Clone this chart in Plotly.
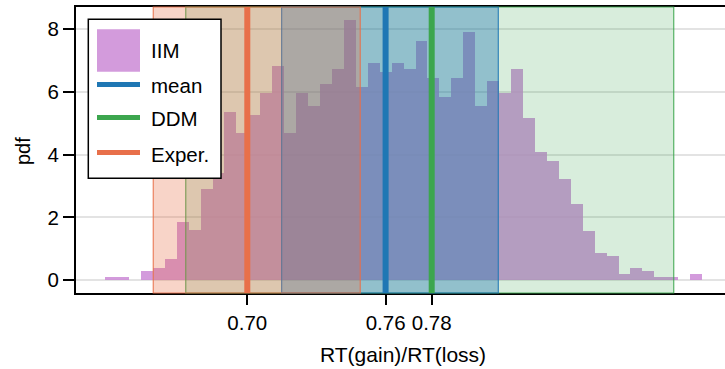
import plotly.graph_objects as go

# ---- data ----
bin_start = 0.6383
bin_width = 0.00518
iim_pdf = [0.10, 0.10, 0.00, 0.29, 0.39, 0.68, 1.86, 1.60, 2.91, 3.42,
           5.36, 4.70, 5.27, 5.96, 6.83, 4.70, 5.96, 5.55, 6.26, 6.73,
           8.30, 6.16, 6.93, 6.64, 6.93, 6.73, 7.63, 6.45, 5.84, 6.45,
           7.92, 5.55, 6.35, 5.97, 6.73, 5.17, 4.09, 3.80, 3.22, 2.43,
           1.56, 0.86, 0.77, 0.19, 0.38, 0.29, 0.10, 0.10, 0.00, 0.19]

labels = ["mean", "DDM", "Exper."]
point_values = [0.76, 0.78, 0.70]
ci_low = [0.7149, 0.6733, 0.6592]
ci_high = [0.8089, 0.8850, 0.7490]

x_ticks = [0.70, 0.76, 0.78]
x_ticktext = ["0.70", "0.76", "0.78"]
y_ticks = [0, 2, 4, 6, 8]

colors = {"mean": (31, 119, 180), "DDM": (60, 166, 78), "Exper.": (232, 112, 74)}
span_alpha = {"mean": 0.38, "DDM": 0.2, "Exper.": 0.3}
iim_color = (211, 155, 220)

def rgb(c):
    return "rgb(%d,%d,%d)" % c

def rgba(c, a):
    return "rgba(%d,%d,%d,%.3f)" % (c[0], c[1], c[2], a)

centers = [bin_start + bin_width * (i + 0.5) for i in range(len(iim_pdf))]

fig = go.Figure()
fig.add_trace(go.Bar(x=centers, y=iim_pdf, width=bin_width,
                     marker=dict(color="rgba(203,137,214,0.85)", line=dict(width=0)),
                     showlegend=False, hoverinfo="skip"))

shapes = []
# spans: order green (DDM), blue (mean), red (Exper.)
for name in ["DDM", "mean", "Exper."]:
    i = labels.index(name)
    shapes.append(dict(type="rect", xref="x", yref="paper", x0=ci_low[i], x1=ci_high[i],
                       y0=0, y1=1, layer="above",
                       fillcolor=rgba(colors[name], span_alpha[name]),
                       line=dict(color=rgba(colors[name], 0.85), width=1.2)))
for name in ["mean", "DDM", "Exper."]:
    i = labels.index(name)
    shapes.append(dict(type="line", xref="x", yref="paper", x0=point_values[i], x1=point_values[i],
                       y0=0, y1=1, layer="above",
                       line=dict(color=rgb(colors[name]), width=6)))

# manual legend (pixel -> paper)
L, R, T, B = 76, 725, 7, 293
def px(xp):
    return (xp - L) / (R - L)
def py(yp):
    return (B - yp) / (B - T)

shapes.append(dict(type="rect", xref="paper", yref="paper", x0=px(88.3), x1=px(221),
                   y0=py(178.3), y1=py(19.3), layer="above", fillcolor="white",
                   line=dict(color="black", width=1.5)))
shapes.append(dict(type="rect", xref="paper", yref="paper", x0=px(97), x1=px(140),
                   y0=py(71.7), y1=py(29.3), layer="above", fillcolor=rgb(iim_color),
                   line=dict(width=0)))
leg_y = {"mean": 84.5, "DDM": 117.5, "Exper.": 152.5}
for name in ["mean", "DDM", "Exper."]:
    shapes.append(dict(type="line", xref="paper", yref="paper", x0=px(97), x1=px(140),
                       y0=py(leg_y[name]), y1=py(leg_y[name]), layer="above",
                       line=dict(color=rgb(colors[name]), width=5)))

font_family = "Liberation Sans, Arial, sans-serif"
annotations = []
for text, yc in [("IIM", 50.5), ("mean", 85), ("DDM", 119), ("Exper.", 154)]:
    annotations.append(dict(text=text, xref="paper", yref="paper", x=px(149), y=py(yc),
                            xanchor="left", yanchor="middle", showarrow=False,
                            font=dict(size=20.5, color="black", family=font_family)))
annotations.append(dict(text="pdf", xref="paper", yref="paper", x=px(23), y=py(151),
                        textangle=-90, xanchor="center", yanchor="middle", showarrow=False,
                        font=dict(size=20, color="black", family=font_family)))
annotations.append(dict(text="RT(gain)/RT(loss)", xref="paper", yref="paper", x=px(403), y=py(355),
                        xanchor="center", yanchor="middle", showarrow=False,
                        font=dict(size=21, color="black", family=font_family)))

x_min = 0.70 - (247.3 - L) / 2305.0
x_max = 0.70 + (R - 247.3) / 2305.0
y_min = -(B - 280) / 31.34
y_max = 8 + (29.3 - T) / 31.34

fig.update_layout(
    width=725, height=369,
    margin=dict(l=L, r=0, t=T, b=369 - B, pad=0),
    plot_bgcolor="white", paper_bgcolor="white",
    shapes=shapes, annotations=annotations,
    showlegend=False, bargap=0,
    font=dict(family=font_family, size=20, color="black"),
    xaxis=dict(range=[x_min, x_max], tickvals=x_ticks, ticktext=x_ticktext,
               showgrid=False, zeroline=False, showline=True, linecolor="black",
               linewidth=2, mirror=True, ticks="outside", ticklen=10, tickwidth=2,
               tickcolor="black", tickfont=dict(size=20.5)),
    yaxis=dict(range=[y_min, y_max], tickvals=y_ticks, showgrid=True,
               gridcolor="#e3e3e3", gridwidth=2, zeroline=False, showline=True,
               linecolor="black", linewidth=2, ticks="outside", ticklen=11,
               tickwidth=2, tickcolor="black", tickfont=dict(size=20.5)),
)

fig.write_html("out.html")
